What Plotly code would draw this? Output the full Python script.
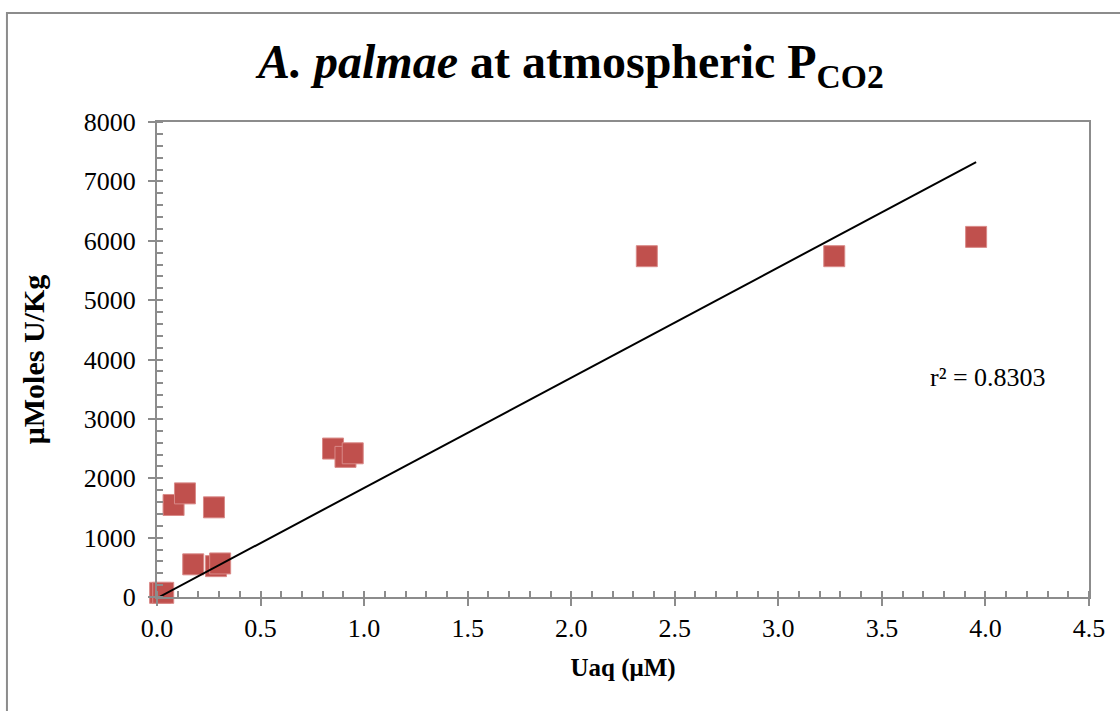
import plotly.graph_objects as go

# Data
uaq = [0.015, 0.03, 0.08, 0.135, 0.175, 0.275, 0.285, 0.305, 0.85, 0.91, 0.945, 2.365, 3.27, 3.955]
umol = [70, 70, 1550, 1745, 550, 1510, 520, 565, 2500, 2360, 2420, 5740, 5740, 6065]

trend_slope = 1857.0
trend_intercept = -20.0
r2_text = "r² = 0.8303"

x_ticks = [0.0, 0.5, 1.0, 1.5, 2.0, 2.5, 3.0, 3.5, 4.0, 4.5]
y_ticks = [0, 1000, 2000, 3000, 4000, 5000, 6000, 7000, 8000]

tx = [min(uaq), max(uaq)]
ty = [trend_slope * v + trend_intercept for v in tx]

FONT = "Liberation Serif"
GRAY = "#8c8c8c"

fig = go.Figure()
fig.add_trace(go.Scatter(
    x=uaq, y=umol, mode="markers", cliponaxis=False,
    marker=dict(symbol="square", size=21, color="#C0504D",
                line=dict(color="#D98A88", width=1)),
    showlegend=False, hoverinfo="x+y"))
fig.add_trace(go.Scatter(
    x=tx, y=ty, mode="lines", line=dict(color="black", width=2),
    showlegend=False, hoverinfo="skip"))

axis_common = dict(
    showline=True, linecolor=GRAY, linewidth=2, mirror=True,
    showgrid=False, zeroline=False,
    ticks="outside", ticklen=7, tickcolor=GRAY, tickwidth=2,
    tickfont=dict(family=FONT, size=26, color="black"),
)

fig.update_xaxes(
    range=[0, 4.5], tickvals=x_ticks, tickformat=".1f",
    minor=dict(dtick=0.1, ticks="inside", ticklen=6, tickcolor=GRAY, tickwidth=2),
    title=dict(text="<b>Uaq (μM)</b>", font=dict(family=FONT, size=25, color="black"), standoff=16),
    **axis_common)
fig.update_yaxes(
    range=[0, 8000], tickvals=y_ticks, ticklabelstandoff=7,
    minor=dict(dtick=200, ticks="inside", ticklen=6, tickcolor=GRAY, tickwidth=2),
    title=dict(text="<b>μMoles U/Kg</b>", font=dict(family=FONT, size=30, color="black"), standoff=30),
    **axis_common)

fig.add_annotation(
    x=4.01, y=3690, xref="x", yref="y", text=r2_text, showarrow=False,
    font=dict(family=FONT, size=26, color="black"))

fig.add_annotation(
    x=0.443, y=1.12, xref="paper", yref="paper", xanchor="center", yanchor="middle",
    text="<b><i>A. palmae</i> at atmospheric P<sub>CO2</sub></b>", showarrow=False,
    font=dict(family=FONT, size=48, color="black"))

# outer chart frame
fig.add_shape(type="rect", xref="paper", yref="paper",
              x0=-0.161, y0=-0.3, x1=1.1, y1=1.2295,
              line=dict(color=GRAY, width=2), layer="below")

fig.update_layout(
    width=1120, height=711,
    margin=dict(l=157, r=31, t=122, b=114),
    paper_bgcolor="white", plot_bgcolor="white",
)

fig.write_html("out.html")
